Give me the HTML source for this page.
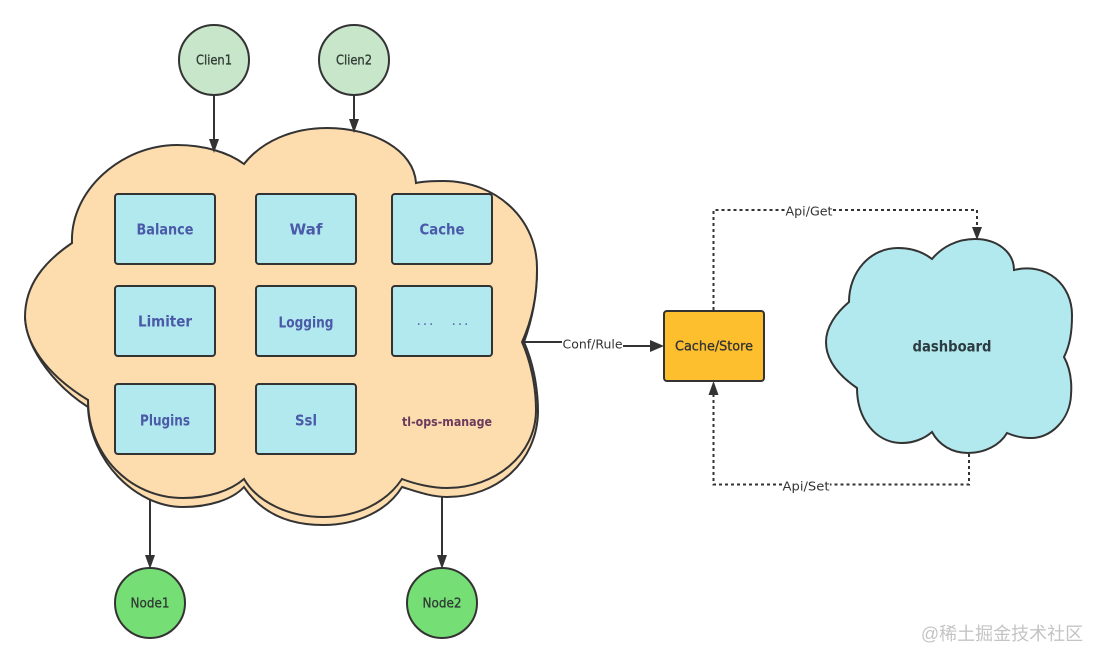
<!DOCTYPE html>
<html lang="zh">
<head>
<meta charset="utf-8">
<title>tl-ops-manage diagram</title>
<style>
html,body{margin:0;padding:0;background:#fff;width:1101px;height:664px;overflow:hidden}
svg{display:block}
text{font-family:"DejaVu Sans","Liberation Sans",sans-serif;text-anchor:middle;dominant-baseline:central}
.b{fill:#b2e9ef;stroke:#333;stroke-width:2}
.t{fill:#4a5aa8;font-weight:bold;font-size:15px}
.s{fill:#2f3a34;font-size:13px;stroke:#2f3a34;stroke-width:.3}
.l{fill:#333;font-size:12.500px}
.w{stroke:#333;stroke-width:2;fill:none}
.d{stroke:#333;stroke-width:2;fill:none;stroke-dasharray:3 3}
.a{fill:#333}
</style>
</head>
<body>
<svg width="1101" height="664" viewBox="0 0 1101 664" xmlns="http://www.w3.org/2000/svg">
<!-- connector lines behind clouds -->
<path class="w" d="M214 95V140M354 95V120M150 498V557M442 488V557"/>
<!-- shadow cloud -->
<path fill="#fddcae" stroke="#333" stroke-width="2" d="M25 318C27 352 58 388 88 407C90 460 135 507 183 507C208 507 232 500 244 487C262 514 290 525 323 525C358 525 388 510 402 487C418 492 432 497 447 497C497 497 537 462 538 412C538 385 532 360 524 342C532 320 537 296 537 270L300 200Z"/>
<!-- main cloud -->
<path fill="#fddcae" stroke="#333" stroke-width="2" stroke-linejoin="miter" d="M72 243C70 190 122 145 177 145C203 145 228 152 244 164C262 141 293 128 327 128C373 128 414 150 416 183C425 181 434 181 443 181C497 181 538 220 537 270C537 296 532 320 522 342C530 360 536 385 536 410C536 455 495 488 447 488C432 488 415 484 402 479C386 503 357 517 323 517C290 517 258 503 244 479C230 491 208 498 183 498C130 498 88 455 88 400C55 380 26 350 25 317C25 285 44 262 72 243Z"/>
<!-- service boxes -->
<rect class="b" x="115" y="194" width="100" height="70" rx="3"/>
<rect class="b" x="256" y="194" width="100" height="70" rx="3"/>
<rect class="b" x="392" y="194" width="100" height="70" rx="3"/>
<rect class="b" x="115" y="286" width="100" height="70" rx="3"/>
<rect class="b" x="256" y="286" width="100" height="70" rx="3"/>
<rect class="b" x="392" y="286" width="100" height="70" rx="3"/>
<rect class="b" x="115" y="384" width="100" height="70" rx="3"/>
<rect class="b" x="256" y="384" width="100" height="70" rx="3"/>
<text class="t" x="165" y="229.500" textLength="57" lengthAdjust="spacingAndGlyphs">Balance</text>
<text class="t" x="306" y="229.500" textLength="33" lengthAdjust="spacingAndGlyphs">Waf</text>
<text class="t" x="442" y="229.500" textLength="45" lengthAdjust="spacingAndGlyphs">Cache</text>
<text class="t" x="165" y="321.500" textLength="54" lengthAdjust="spacingAndGlyphs">Limiter</text>
<text class="t" x="306" y="322.500" textLength="55" lengthAdjust="spacingAndGlyphs">Logging</text>
<text x="425" y="321" fill="#5a6ba8" font-size="14" textLength="17">...</text>
<text x="460" y="321" fill="#5a6ba8" font-size="14" textLength="17">...</text>
<text class="t" x="165" y="420.500" textLength="50" lengthAdjust="spacingAndGlyphs">Plugins</text>
<text class="t" x="306" y="420.500" textLength="22" lengthAdjust="spacingAndGlyphs">Ssl</text>
<text x="447" y="421.500" fill="#6b3a5c" font-size="12.500" font-weight="bold" textLength="90" lengthAdjust="spacingAndGlyphs">tl-ops-manage</text>
<!-- clients -->
<circle cx="214" cy="60" r="35" fill="#c8e6c9" stroke="#333" stroke-width="2"/>
<circle cx="354" cy="60" r="35" fill="#c8e6c9" stroke="#333" stroke-width="2"/>
<text class="s" x="214" y="61" textLength="36" lengthAdjust="spacingAndGlyphs">Clien1</text>
<text class="s" x="354" y="61" textLength="36" lengthAdjust="spacingAndGlyphs">Clien2</text>
<polygon class="a" points="209,139 219,139 214,153"/>
<polygon class="a" points="349,119 359,119 354,133"/>
<!-- nodes -->
<circle cx="150" cy="603" r="35" fill="#75df75" stroke="#333" stroke-width="2"/>
<circle cx="442" cy="603" r="35" fill="#75df75" stroke="#333" stroke-width="2"/>
<text class="s" x="150" y="604" textLength="39" lengthAdjust="spacingAndGlyphs">Node1</text>
<text class="s" x="442" y="604" textLength="39" lengthAdjust="spacingAndGlyphs">Node2</text>
<polygon class="a" points="145,555 155,555 150,569"/>
<polygon class="a" points="437,555 447,555 442,569"/>
<!-- Conf/Rule -->
<path class="w" d="M522 342H562M623 346H652"/>
<polygon class="a" points="650,340 650,352 664,346"/>
<text class="l" x="592.500" y="344" textLength="60" lengthAdjust="spacingAndGlyphs">Conf/Rule</text>
<!-- Cache/Store -->
<rect x="664" y="311" width="100" height="70" rx="3" fill="#fdbf2d" stroke="#333" stroke-width="2"/>
<text x="714" y="347" fill="#333" font-size="13" stroke="#333" stroke-width=".3" textLength="78" lengthAdjust="spacingAndGlyphs">Cache/Store</text>
<!-- Api/Get and Api/Set -->
<path class="d" d="M713.500 310V210H785M833 210H977V228"/>
<polygon class="a" points="972,227 982,227 977,240"/>
<path class="d" d="M969 454V484.500H830M782 484.500H713.500V394"/>
<polygon class="a" points="708.500,395 718.500,395 713.500,381"/>
<text class="l" x="809" y="211" textLength="47" lengthAdjust="spacingAndGlyphs">Api/Get</text>
<text class="l" x="806" y="486" textLength="47" lengthAdjust="spacingAndGlyphs">Api/Set</text>
<!-- dashboard cloud -->
<path fill="#b2e9ef" stroke="#333" stroke-width="2" d="M849 302C849 272 870 248 898 248C911 248 923 252 932 259C942 247 957 239 975 239C997 239 1014 252 1014 270C1047 262 1072 285 1072 315C1072 332 1070 345 1064 357C1070 368 1072 382 1071 395C1070 420 1050 439 1030 438C1022 438 1014 436 1007 433C1000 445 985 453 968 453C952 453 939 445 932 432C924 439 913 443 902 443C875 443 857 418 857 388C838 375 826 360 826 342C826 327 836 313 849 302Z"/>
<text x="952" y="346.500" fill="#2b3b40" font-size="15" font-weight="bold" textLength="79" lengthAdjust="spacingAndGlyphs">dashboard</text>
<!-- watermark -->
<text x="1002" y="634" fill="#c4c4c4" font-size="18" style="font-family:'Liberation Sans','Noto Sans CJK SC',sans-serif">@稀土掘金技术社区</text>
</svg>
</body>
</html>
